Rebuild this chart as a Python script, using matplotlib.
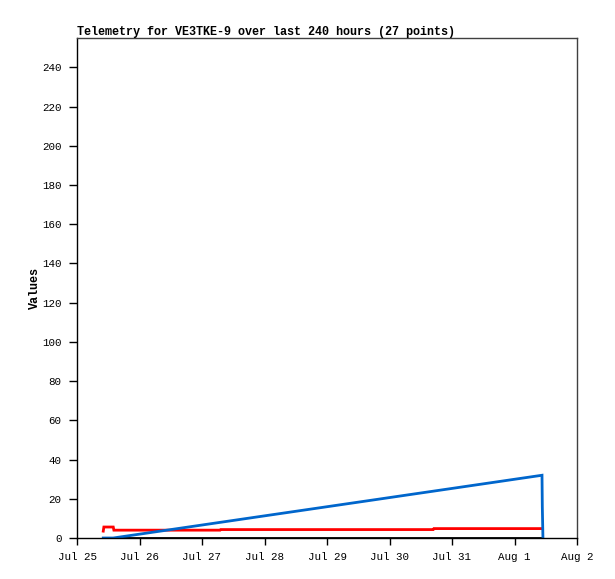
import matplotlib
matplotlib.use("Agg")
import matplotlib.pyplot as plt
import datetime as dt

# days after Jul 25 00:00
t_days = [0.42, 0.43, 0.58, 0.59, 1.0, 1.5, 2.0, 2.29, 2.30, 2.8, 3.3, 3.8, 4.3, 4.8,
          5.3, 5.70, 5.71, 6.0, 6.4, 6.8, 7.0, 7.2, 7.3, 7.4, 7.44, 7.445, 7.455]
blue = [0, 0, 0, 0.05, 1.96, 4.29, 6.62, 7.98, 8.02, 10.36, 12.69, 15.02, 17.35, 19.68,
        22.02, 23.88, 23.93, 25.28, 27.15, 29.01, 29.95, 30.88, 31.35, 31.81, 32.0, 16.0, 0.0]
red = [3.5, 5.6, 5.6, 4.0, 4.0, 4.0, 4.0, 4.0, 4.3, 4.3, 4.3, 4.3, 4.3, 4.3,
       4.3, 4.3, 4.8, 4.8, 4.8, 4.8, 4.8, 4.8, 4.8, 4.8, 4.8, 4.8, 4.8]
black = [0] * 27

yticks = [0, 20, 40, 60, 80, 100, 120, 140, 160, 180, 200, 220, 240]
xtick_labels = ["Jul 25", "Jul 26", "Jul 27", "Jul 28", "Jul 29", "Jul 30", "Jul 31", "Aug 1", "Aug 2"]

base = dt.datetime(2023, 7, 25)
times = [base + dt.timedelta(days=d) for d in t_days]

plt.rcParams['font.family'] = ['Liberation Mono', 'DejaVu Sans Mono']
fig = plt.figure(figsize=(6.15, 5.79), dpi=100)
ax = fig.add_axes([77/615, 41/579, 500/615, 500/579])

ax.plot(times, black, color='black', lw=2, solid_capstyle='butt')
ax.plot(times[:-2], red[:-2], color='#ff0000', lw=2, solid_joinstyle='miter')
ax.plot(times, blue, color='#0066cc', lw=2, solid_joinstyle='miter')

ax.set_xlim(base, base + dt.timedelta(days=8))
ax.set_ylim(0, 255)
ax.set_yticks(yticks)
ax.set_yticklabels([str(v) for v in yticks], fontsize=7.8)
ax.set_xticks([base + dt.timedelta(days=i) for i in range(9)])
ax.set_xticklabels(xtick_labels, fontsize=7.8)
ax.tick_params(axis='y', direction='out', length=6, width=1, color='black', pad=5)
ax.tick_params(axis='x', direction='out', length=5, width=1, color='black', pad=5)

for s in ['left', 'bottom']:
    ax.spines[s].set_color('black')
    ax.spines[s].set_linewidth(1)
for s in ['top', 'right']:
    ax.spines[s].set_color('#404040')
    ax.spines[s].set_linewidth(1)

ax.set_ylabel("Values", fontsize=8.5, fontweight='bold')
ax.yaxis.set_label_coords(-0.073, 0.5)
ax.set_title("Telemetry for VE3TKE-9 over last 240 hours (27 points)",
             fontsize=8.5, fontweight='bold', loc='left', pad=2)

fig.savefig("out.png", dpi=100)
